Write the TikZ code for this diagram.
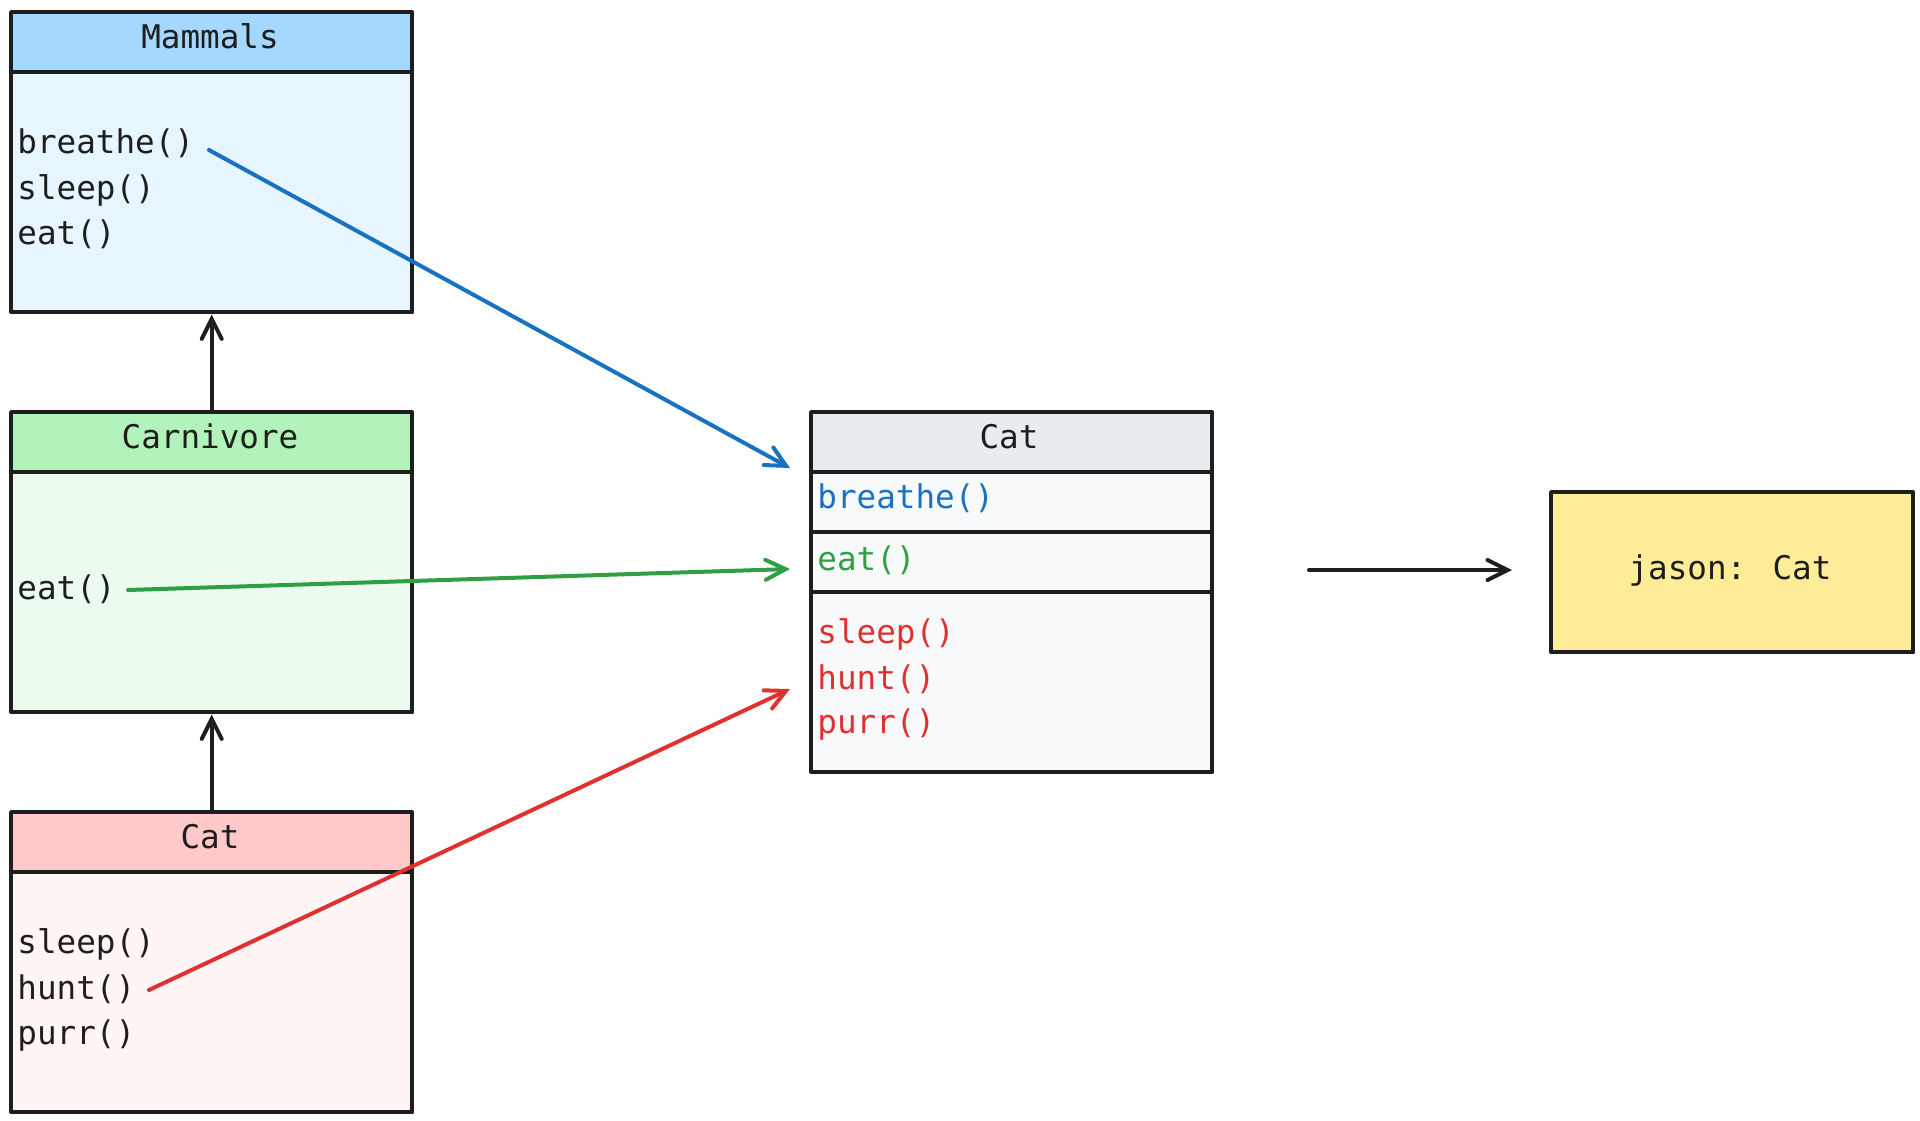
\documentclass[tikz,border=0pt]{standalone}
\usepackage{fontspec}
\usetikzlibrary{arrows.meta}
\newfontfamily\codefont{DejaVu Sans Mono}
\definecolor{ink}{HTML}{1E1E1E}
\definecolor{mamhead}{HTML}{A5D8FF}
\definecolor{mambody}{HTML}{E7F5FF}
\definecolor{carhead}{HTML}{B2F2BB}
\definecolor{carbody}{HTML}{EBFBEE}
\definecolor{cathead}{HTML}{FFC9C9}
\definecolor{catbody}{HTML}{FFF5F5}
\definecolor{objhead}{HTML}{E9ECEF}
\definecolor{objbody}{HTML}{F8F9FA}
\definecolor{objfill}{HTML}{FFEC99}
\definecolor{cblue}{HTML}{1971C2}
\definecolor{cgreen}{HTML}{2F9E44}
\definecolor{cred}{HTML}{E03131}
\tikzset{
  box/.style={draw=ink, line width=2.2pt, rectangle, inner sep=0pt,
    anchor=north west, minimum width=200.5pt, line join=round},
  label/.style={inner sep=0pt, font=\codefont\fontsize{16.3}{19}\selectfont, text=ink},
  member/.style={label, anchor=base west},
  title/.style={label, anchor=base},
  arr/.style={line width=2pt, line cap=round,
    -{Straight Barb[length=10pt, width=10pt, line width=2pt, line cap=round]}},
}
\begin{document}
\begin{tikzpicture}[x=0.5pt, y=-0.5pt]
\useasboundingbox (0,0) rectangle (1920,1120);

% Mammals class
\node[box, fill=mamhead, minimum height=30pt] (mamh) at (9,10) {};
\node[box, fill=mambody, minimum height=120pt] (mamb) at (9,70) {};
\node[title] (mamt) at (210,48) {Mammals};
\node[member] (m1) at (17,153) {breathe()};
\node[member] (m2) at (17,199) {sleep()};
\node[member] (m3) at (17,244) {eat()};

% Carnivore class
\node[box, fill=carhead, minimum height=30pt] (carh) at (9,410) {};
\node[box, fill=carbody, minimum height=120pt] (carb) at (9,470) {};
\node[title] (cart) at (210,448) {Carnivore};
\node[member] (c1) at (17,599) {eat()};

% Cat class
\node[box, fill=cathead, minimum height=30pt] (cath) at (9,810) {};
\node[box, fill=catbody, minimum height=120pt] (catb) at (9,870) {};
\node[title] (catt) at (210,848) {Cat};
\node[member] (k1) at (17,953) {sleep()};
\node[member] (k2) at (17,999) {hunt()};
\node[member] (k3) at (17,1044) {purr()};

% Resolved Cat with its inherited members
\node[box, fill=objhead, minimum height=30pt] (objh) at (809,410) {};
\node[box, fill=objbody, minimum height=30pt] (objr1) at (809,470) {};
\node[box, fill=objbody, minimum height=30pt] (objr2) at (809,530) {};
\node[box, fill=objbody, minimum height=90pt] (objr3) at (809,590) {};
\node[title] (objt) at (1009,448) {Cat};
\node[member, text=cblue] (o1) at (817,508) {breathe()};
\node[member, text=cgreen] (o2) at (817,570) {eat()};
\node[member, text=cred] (o3) at (817,643) {sleep()};
\node[member, text=cred] (o4) at (817,689) {hunt()};
\node[member, text=cred] (o5) at (817,733) {purr()};

% Instance
\node[box, fill=objfill, minimum width=181pt, minimum height=80pt] (jason) at (1549,490) {};
\node[title] (jasont) at (1730,579) {jason: Cat};

% Inheritance
\draw[arr, draw=ink] (carh.north) -- (mamb.south);
\draw[arr, draw=ink] (cath.north) -- (carb.south);

% Member origins
\coordinate (bs) at (209,150);
\coordinate (be) at (790,468);
\coordinate (gs) at (128,590);
\coordinate (ge) at (790,569);
\coordinate (rs) at (149,990);
\coordinate (re) at (790,689);
\draw[arr, draw=cblue] (bs) -- (be);
\draw[arr, draw=cgreen] (gs) -- (ge);
\draw[arr, draw=cred] (rs) -- (re);

% Instantiation
\coordinate (is) at (1309,570);
\draw[arr, draw=ink, shorten >=18.5pt] (is) -- (jason.west |- is);
\end{tikzpicture}
\end{document}
